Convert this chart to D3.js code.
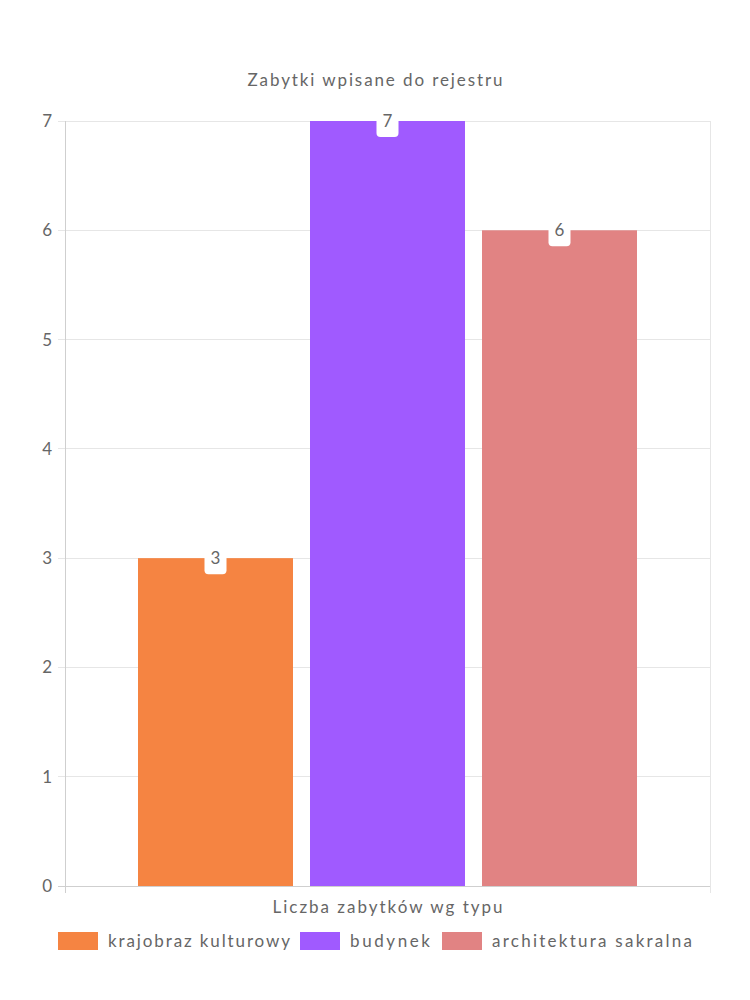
<!DOCTYPE html>
<html><head><meta charset="utf-8">
<script src="https://cdn.jsdelivr.net/npm/d3@7"></script>
<style>body{margin:0;background:#fff}svg text{font-family:"Lato","Noto Sans",sans-serif;fill:#666}</style>
</head><body>
<svg id="c" width="750" height="1000"></svg>
<script>
const title = "Zabytki wpisane do rejestru";
const category = "Liczba zabytków wg typu";
const seriesNames = ["krajobraz kulturowy", "budynek", "architektura sakralna"];
const seriesValues = [3, 7, 6];
const seriesColors = ["#f58442", "#a05aff", "#e18383"];
const yTicks = [0, 1, 2, 3, 4, 5, 6, 7];

const svg = d3.select("#c");
const m = {l: 65, r: 710, t: 121, b: 886};
const y = d3.scaleLinear().domain([0, 7]).range([m.b, m.t]);
const x0 = d3.scaleBand().domain([category]).range([m.l, m.r]).paddingInner(0).paddingOuter(0.125);
const pad = 17 / 172;
const x1 = d3.scaleBand().domain(seriesNames).range([x0(category), x0(category) + x0.bandwidth()]).paddingInner(pad).paddingOuter(pad / 2);

// grid
svg.append("g").selectAll("line").data(yTicks).join("line")
  .attr("x1", m.l - 7).attr("x2", m.r).attr("y1", d => y(d)).attr("y2", d => y(d))
  .attr("stroke", d => d === 0 ? "#cfcfcf" : "#e6e6e6").attr("stroke-width", 1).attr("shape-rendering","crispEdges");
svg.append("line").attr("x1", m.l).attr("x2", m.l).attr("y1", m.t).attr("y2", m.b + 7)
  .attr("stroke", "#cfcfcf").attr("shape-rendering","crispEdges");
svg.append("line").attr("x1", m.r).attr("x2", m.r).attr("y1", m.t).attr("y2", m.b + 7)
  .attr("stroke", "#e6e6e6").attr("shape-rendering","crispEdges");

// y axis labels
const yAxis = d3.axisLeft(y).tickValues(yTicks).tickFormat(d3.format("d")).tickSize(0).tickPadding(13);
const ga = svg.append("g").attr("transform", `translate(${m.l},0)`).call(yAxis);
ga.select(".domain").remove();
ga.selectAll("text").attr("font-size", 17).style("fill", "#666").style("font-family", "Lato, 'Noto Sans', sans-serif");

// bars
svg.append("g").selectAll("rect").data(seriesNames).join("rect")
  .attr("x", d => x1(d)).attr("width", x1.bandwidth())
  .attr("y", (d, i) => y(seriesValues[i])).attr("height", (d, i) => m.b - y(seriesValues[i]))
  .attr("fill", (d, i) => seriesColors[i]);

// data labels
const lg = svg.append("g").selectAll("g").data(seriesNames).join("g")
  .attr("transform", (d, i) => `translate(${x1(d) + x1.bandwidth()/2},${y(seriesValues[i])})`);
lg.append("rect").attr("x", -11).attr("y", -16).attr("width", 22).attr("height", 32).attr("rx", 4).attr("fill", "#fff");
lg.append("text").attr("text-anchor", "middle").attr("dy", "0.35em").attr("font-size", 17)
  .text((d, i) => seriesValues[i]);

// title
svg.append("text").attr("x", 375).attr("y", 86).attr("text-anchor", "middle").attr("font-size", 17)
  .attr("textLength", 255).attr("lengthAdjust", "spacing").text(title);
// category label
svg.append("text").attr("x", (m.l + m.r)/2).attr("y", 913).attr("text-anchor", "middle").attr("font-size", 17)
  .attr("textLength", 230).attr("lengthAdjust", "spacing").text(category);

// legend
const legX = [58, 300, 442];
const legW = [182, 80, 200];
const leg = svg.append("g").selectAll("g").data(seriesNames).join("g")
  .attr("transform", (d, i) => `translate(${legX[i]},932)`);
leg.append("rect").attr("width", 40).attr("height", 18).attr("fill", (d, i) => seriesColors[i]);
leg.append("text").attr("x", 50).attr("y", 9).attr("dy", "0.35em").attr("font-size", 17)
  .attr("textLength", (d, i) => legW[i]).attr("lengthAdjust", "spacing").text(d => d);
</script>
</body></html>
